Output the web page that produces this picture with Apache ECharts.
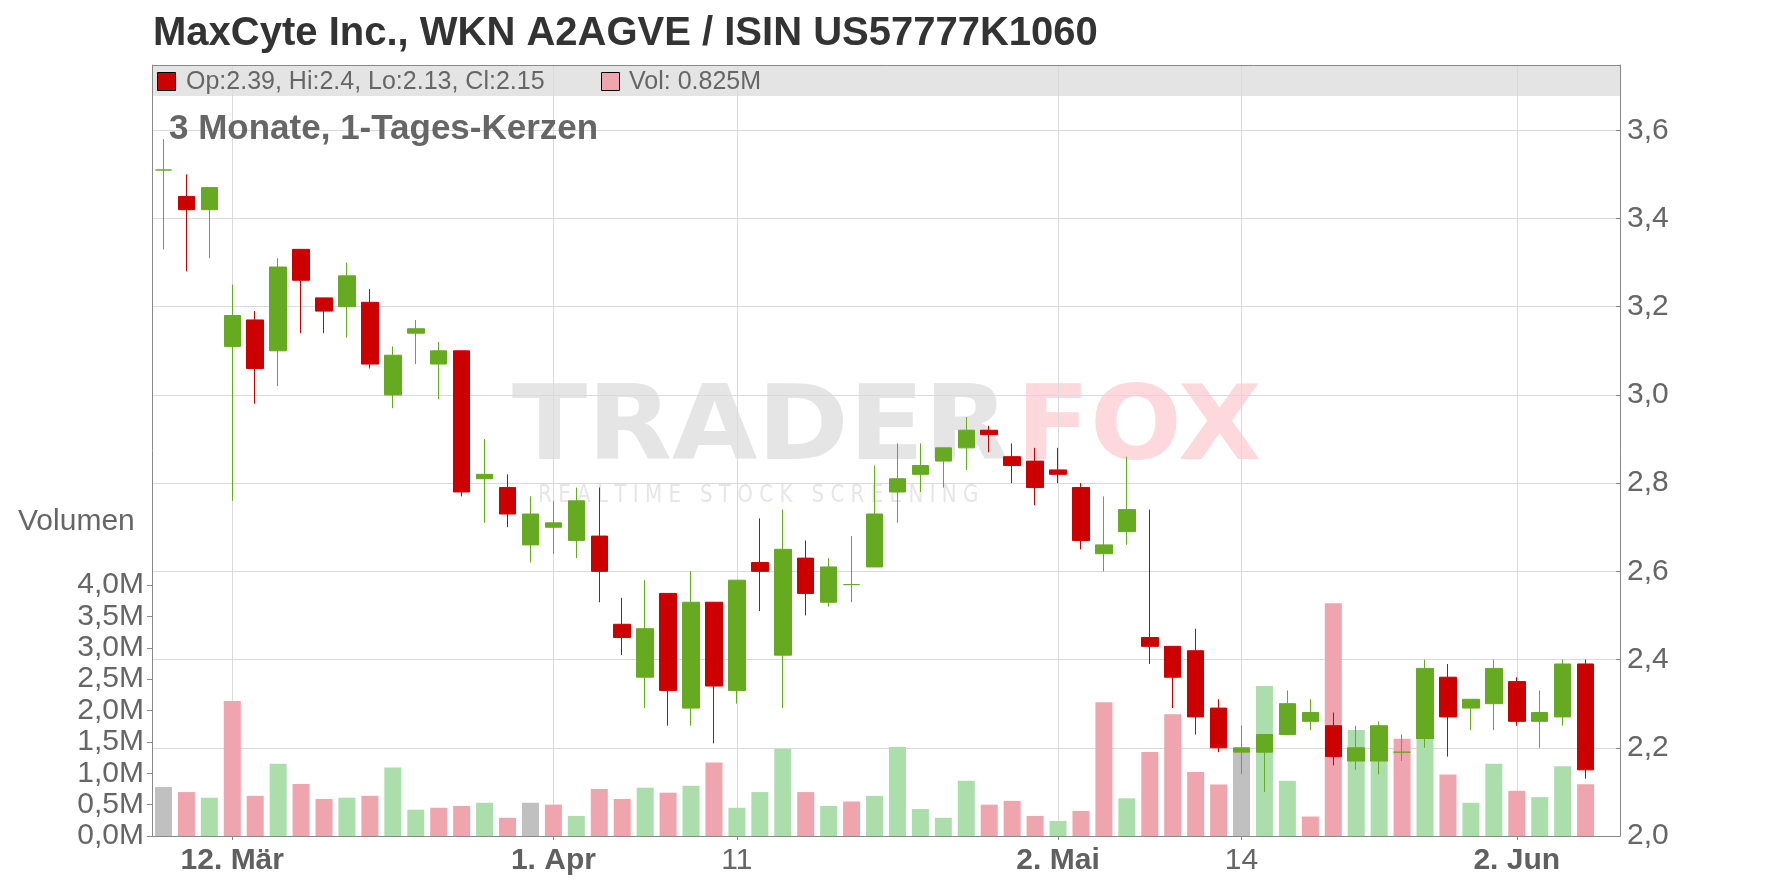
<!DOCTYPE html>
<html><head><meta charset="utf-8">
<script src="https://cdn.jsdelivr.net/npm/echarts@6/dist/echarts.min.js"></script>
<style>html,body{margin:0;padding:0;background:#fff}#c{width:1776px;height:888px}</style>
</head><body><div id="c"></div>
<script>
// ---- data ----
const dates = ['2025-03-07','2025-03-10','2025-03-11','2025-03-12','2025-03-13','2025-03-14','2025-03-17','2025-03-18','2025-03-19','2025-03-20','2025-03-21','2025-03-24','2025-03-25','2025-03-26','2025-03-27','2025-03-28','2025-03-31','2025-04-01','2025-04-02','2025-04-03','2025-04-04','2025-04-07','2025-04-08','2025-04-09','2025-04-10','2025-04-11','2025-04-14','2025-04-15','2025-04-16','2025-04-17','2025-04-21','2025-04-22','2025-04-23','2025-04-24','2025-04-25','2025-04-28','2025-04-29','2025-04-30','2025-05-01','2025-05-02','2025-05-05','2025-05-06','2025-05-07','2025-05-08','2025-05-09','2025-05-12','2025-05-13','2025-05-14','2025-05-15','2025-05-16','2025-05-19','2025-05-20','2025-05-21','2025-05-22','2025-05-23','2025-05-27','2025-05-28','2025-05-29','2025-05-30','2025-06-02','2025-06-03','2025-06-04','2025-06-05','2025-06-06'];
const opens  = [3.51,3.45,3.42,3.11,3.17,3.10,3.33,3.22,3.20,3.21,3.00,3.14,3.07,3.10,2.81,2.79,2.66,2.70,2.67,2.68,2.48,2.36,2.55,2.29,2.53,2.33,2.62,2.41,2.63,2.53,2.57,2.61,2.78,2.82,2.85,2.88,2.92,2.86,2.85,2.83,2.79,2.64,2.69,2.45,2.43,2.42,2.29,2.19,2.19,2.23,2.26,2.25,2.17,2.17,2.19,2.22,2.36,2.29,2.30,2.35,2.26,2.27,2.39];
const closes = [3.51,3.42,3.47,3.18,3.06,3.29,3.26,3.19,3.27,3.07,3.09,3.15,3.10,2.78,2.82,2.73,2.73,2.71,2.76,2.60,2.45,2.47,2.33,2.53,2.34,2.58,2.60,2.65,2.55,2.61,2.57,2.73,2.81,2.84,2.88,2.92,2.91,2.84,2.79,2.82,2.67,2.66,2.74,2.43,2.36,2.27,2.20,2.20,2.23,2.30,2.28,2.18,2.20,2.25,2.19,2.38,2.27,2.31,2.38,2.26,2.28,2.39,2.15];
const lows   = [3.33,3.28,3.31,2.76,2.98,3.02,3.14,3.14,3.13,3.06,2.97,3.07,2.99,2.77,2.71,2.70,2.62,2.64,2.63,2.53,2.41,2.29,2.25,2.25,2.21,2.30,2.51,2.29,2.50,2.52,2.53,2.61,2.71,2.78,2.79,2.83,2.87,2.80,2.75,2.80,2.65,2.60,2.66,2.39,2.29,2.23,2.19,2.14,2.10,2.23,2.24,2.16,2.15,2.14,2.17,2.20,2.18,2.24,2.24,2.25,2.20,2.25,2.13];
const highs  = [3.58,3.50,3.47,3.25,3.19,3.31,3.33,3.22,3.30,3.24,3.11,3.17,3.12,3.10,2.90,2.82,2.77,2.76,2.79,2.79,2.54,2.58,2.55,2.60,2.53,2.58,2.72,2.74,2.67,2.63,2.68,2.84,2.89,2.89,2.88,2.95,2.93,2.89,2.88,2.88,2.80,2.77,2.86,2.74,2.43,2.47,2.31,2.25,2.23,2.33,2.31,2.28,2.25,2.26,2.23,2.40,2.39,2.31,2.40,2.36,2.33,2.40,2.40];
const volumes = [0.78,0.70,0.61,2.15,0.64,1.15,0.83,0.59,0.61,0.64,1.09,0.42,0.45,0.48,0.53,0.29,0.53,0.50,0.32,0.75,0.59,0.77,0.69,0.80,1.17,0.45,0.70,1.39,0.70,0.48,0.55,0.64,1.42,0.43,0.29,0.88,0.50,0.56,0.32,0.24,0.40,2.13,0.60,1.34,1.94,1.02,0.82,1.33,2.39,0.88,0.31,3.71,1.69,1.70,1.55,1.53,0.98,0.53,1.15,0.72,0.62,1.11,0.825];
const tickDates  = ['2025-03-12','2025-04-01','2025-04-11','2025-05-02','2025-05-14','2025-06-02'];
const tickLabels = ['12. Mär','1. Apr','11','2. Mai','14','2. Jun'];
const tickBold   = [true,true,false,true,false,true];

// ---- derived ----
const FONT = '"Liberation Sans", Arial, sans-serif';
const candleData = opens.map((o,i)=>[o, closes[i], lows[i], highs[i]]);
const volData = volumes.map((v,i)=>{
  let c = '#c0c0c0';
  if (i>0) { if (closes[i]>closes[i-1]) c='#acdeab'; else if (closes[i]<closes[i-1]) c='#eea5ad'; }
  return {value:v, itemStyle:{color:c}};
});
const last = opens.length-1;
const legendText = 'Op:'+opens[last]+', Hi:'+highs[last]+', Lo:'+lows[last]+', Cl:'+closes[last];
const volText = 'Vol: '+volumes[last]+'M';
const isTick = (idx, val) => tickDates.indexOf(val) >= 0;

const chart = echarts.init(document.getElementById('c'), null, {renderer:'canvas'});
chart.setOption({
  animation:false,
  backgroundColor:'#ffffff',
  grid:[
    {left:152, right:156, top:65, bottom:52},
    {left:152, right:156, top:585, bottom:52}
  ],
  xAxis:[
    {gridIndex:0, type:'category', data:dates, boundaryGap:true,
     axisLine:{show:true, lineStyle:{color:'#888888', width:1}},
     axisTick:{show:true, alignWithLabel:true, interval:isTick, length:4, lineStyle:{color:'#888888'}},
     axisLabel:{interval:isTick, margin:10, color:'#666666',
       formatter:(v)=>{const k=tickDates.indexOf(v); if(k<0) return ''; return (tickBold[k]?'{b|':'{r|')+tickLabels[k]+'}';},
       rich:{b:{fontFamily:FONT, fontSize:30, fontWeight:'bold', color:'#606060'}, r:{fontFamily:FONT, fontSize:30, color:'#666666'}}},
     splitLine:{show:false}},
    {gridIndex:1, type:'category', data:dates, boundaryGap:true, show:false}
  ],
  yAxis:[
    {gridIndex:0, type:'value', position:'right', min:2.0, max:3.748, interval:0.2,
     axisLine:{show:true, lineStyle:{color:'#888888'}},
     axisTick:{show:true, inside:true, length:4, lineStyle:{color:'#888888'}},
     axisLabel:{color:'#666666', fontFamily:FONT, fontSize:30, margin:7, showMaxLabel:false,
       formatter:(v)=>v.toFixed(1).replace('.',',')},
     splitLine:{show:true, lineStyle:{color:'#dadada', width:1}}},
    {gridIndex:1, type:'value', position:'left', min:0, max:4, interval:0.5,
     axisLine:{show:true, lineStyle:{color:'#888888'}},
     axisTick:{show:true, length:5, lineStyle:{color:'#888888'}},
     axisLabel:{color:'#666666', fontFamily:FONT, fontSize:30, margin:8,
       formatter:(v)=>v.toFixed(1).replace('.',',')+'M'},
     splitLine:{show:false}},
    {gridIndex:0, type:'value', position:'left', min:0, max:1,
     axisLine:{show:true, lineStyle:{color:'#888888'}},
     axisTick:{show:false}, axisLabel:{show:false}, splitLine:{show:false}}
  ],
  series:[
    {type:'line', xAxisIndex:0, yAxisIndex:0, data:dates.map(()=>null), z:1, silent:true,
     symbol:'none', lineStyle:{opacity:0},
     markLine:{z:1, silent:true, symbol:['none','none'], label:{show:false}, animation:false,
       lineStyle:{color:'#dadada', width:1, type:'solid'},
       data:tickDates.map(d=>({xAxis:d}))}},
    {type:'bar', name:'Vol', xAxisIndex:1, yAxisIndex:1, data:volData, barWidth:17, z:2},
    {type:'candlestick', name:'Kurs', xAxisIndex:0, yAxisIndex:0, data:candleData, barWidth:17, z:3,
     itemStyle:{color:'#66aa22', color0:'#cc0000', borderColor:'#66aa22', borderColor0:'#cc0000', borderColorDoji:'#66aa22', borderWidth:1}}
  ],
  graphic:[
    // legend band
    {type:'rect', z:-1, silent:true, shape:{x:152.5, y:65.5, width:1468, height:30.5}, style:{fill:'#e4e4e4'}},
    {type:'line', z:50, silent:true, shape:{x1:152.5, y1:65.5, x2:1620.5, y2:65.5}, style:{stroke:'#888888', lineWidth:1}},
    // watermark
    {type:'text', z:-1, silent:true, x:512, y:432, scaleX:1.07, style:{text:'TRADER', fontFamily:'"DejaVu Sans", sans-serif', fontWeight:'bold', fontSize:103, fill:'#e5e5e5', verticalAlign:'middle', align:'left'}},
    {type:'text', z:-1, silent:true, x:1016, y:432, scaleX:1.05, style:{text:'FOX', fontFamily:'"DejaVu Sans", sans-serif', fontWeight:'bold', fontSize:103, fill:'#fdd8dc', verticalAlign:'middle', align:'left'}},
    {type:'text', z:-1, silent:true, x:538, y:495, scaleX:0.795, style:{text:'R E A L T I M E   S T O C K   S C R E E N I N G', fontFamily:'"DejaVu Sans", sans-serif', fontSize:25, fill:'#e6e6e6', verticalAlign:'middle', align:'left'}},
    // title
    {type:'text', z:100, x:153, y:34, style:{text:'MaxCyte Inc., WKN A2AGVE / ISIN US57777K1060', fontFamily:FONT, fontWeight:'bold', fontSize:40, fill:'#333333', verticalAlign:'middle', align:'left'}},
    // subtitle
    {type:'text', z:100, x:169, y:129.5, style:{text:'3 Monate, 1-Tages-Kerzen', fontFamily:FONT, fontWeight:'bold', fontSize:35, fill:'#666666', verticalAlign:'middle', align:'left'}},
    // legend entries
    {type:'rect', z:100, shape:{x:157.5, y:72.5, width:18, height:18}, style:{fill:'#cc0000', stroke:'#000000', lineWidth:1}},
    {type:'text', z:100, x:186, y:82.5, style:{text:legendText, fontFamily:FONT, fontSize:25, fill:'#666666', verticalAlign:'middle', align:'left'}},
    {type:'rect', z:100, shape:{x:601.5, y:72.5, width:18, height:18}, style:{fill:'#eea5ad', stroke:'#000000', lineWidth:1}},
    {type:'text', z:100, x:629, y:82.5, style:{text:volText, fontFamily:FONT, fontSize:25, fill:'#666666', verticalAlign:'middle', align:'left'}},
    // Volumen label
    {type:'text', z:100, x:18, y:522, style:{text:'Volumen', fontFamily:FONT, fontSize:30, fill:'#666666', verticalAlign:'middle', align:'left'}}
  ]
});
</script>
</body></html>
